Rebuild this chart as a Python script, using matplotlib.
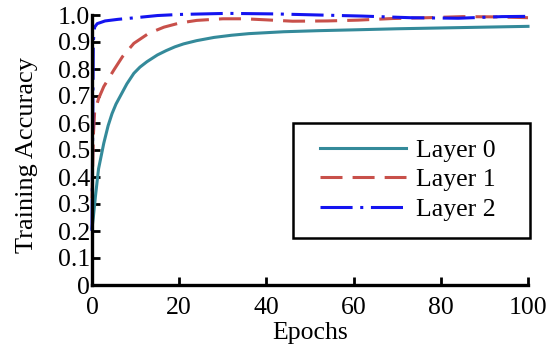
import matplotlib
matplotlib.use("Agg")
import matplotlib.pyplot as plt
from matplotlib.patches import Rectangle

# Data
ep0 = [0, 0.3, 0.8, 1.5, 2.7, 3.7, 4.6, 5.5, 6.5, 8, 9.6, 11, 12.6, 15, 17, 19, 21, 24, 28, 32, 36, 44, 52, 60, 70, 80, 90, 100]
acc0 = [0.21, 0.25, 0.33, 0.43, 0.525, 0.59, 0.635, 0.67, 0.70, 0.745, 0.784, 0.807, 0.827, 0.852, 0.868, 0.882, 0.893, 0.905, 0.917, 0.925, 0.931, 0.938, 0.942, 0.945, 0.949, 0.952, 0.955, 0.958]

ep1 = [0, 0.3, 0.6, 1.5, 2.7, 5, 7, 9.6, 13, 16.5, 20, 24, 30, 35, 40, 46, 54, 61, 69, 77, 85, 93, 100]
acc1 = [0.32, 0.55, 0.64, 0.69, 0.735, 0.796, 0.846, 0.895, 0.932, 0.955, 0.97, 0.98, 0.986, 0.986, 0.982, 0.977, 0.978, 0.981, 0.987, 0.99, 0.994, 0.993, 0.99]

ep2 = [0, 0.3, 0.6, 1.2, 3, 6, 10, 15, 20, 31, 42, 52, 62, 73, 84, 94, 100]
acc2 = [0.20, 0.90, 0.955, 0.968, 0.978, 0.984, 0.99, 0.998, 1.002, 1.006, 1.004, 1.0, 0.996, 0.99, 0.988, 0.994, 0.995]

labels = ["Layer 0", "Layer 1", "Layer 2"]
xticks = [0, 20, 40, 60, 80, 100]
yticks = [0, 0.1, 0.2, 0.3, 0.4, 0.5, 0.6, 0.7, 0.8, 0.9, 1.0]
yticklabels = ["0", "0.1", "0.2", "0.3", "0.4", "0.5", "0.6", "0.7", "0.8", "0.9", "1.0"]

plt.rcParams['font.family'] = ['Liberation Serif', 'DejaVu Serif']
fs = 18.5

fig = plt.figure(figsize=(5.56, 3.47), dpi=100)
ax = fig.add_axes([92/556, 62/347, 436/556, 270/347])

lw = 2.2
ax.plot(ep0, acc0, color="#348a9a", lw=lw, label=labels[0], clip_on=False)
ax.plot(ep1, acc1, color="#c8504a", lw=lw, linestyle=(0, (7.2, 3.3)), label=labels[1], clip_on=False)
ax.plot(ep2, acc2, color="#1414f0", lw=lw, linestyle=(0, (10.5, 2.5, 1, 2.5)), label=labels[2], clip_on=False)

ax.set_xlim(0, 100)
ax.set_ylim(0, 1.0)
ax.set_xticks(xticks)
ax.set_yticks(yticks)
ax.set_yticklabels(yticklabels)
for s in ["top", "right"]:
    ax.spines[s].set_visible(False)
for s in ["left", "bottom"]:
    ax.spines[s].set_linewidth(2.4)
ax.tick_params(direction="in", length=6, width=2, labelsize=fs)
ax.tick_params(axis="x", pad=8.5)
ax.tick_params(axis="y", pad=1.5)
ax.set_xlabel("Epochs", fontsize=fs, labelpad=2)
ax.set_ylabel("Training Accuracy", fontsize=19)
ax.yaxis.set_label_coords(-0.124, 0.481)

# legend frame drawn as a plain rectangle
ax.add_patch(Rectangle((0.461, 0.174), 0.544, 0.426, transform=ax.transAxes,
                       facecolor="white", edgecolor="black", lw=1.8, clip_on=False, zorder=4))
leg = ax.legend(loc="center left", bbox_to_anchor=(0.523, 0.39), fontsize=fs,
                handlelength=3.35, labelspacing=0.25, borderpad=0, handletextpad=0.4,
                frameon=False, borderaxespad=0)
leg.set_zorder(5)

fig.savefig("out.png", dpi=100)
